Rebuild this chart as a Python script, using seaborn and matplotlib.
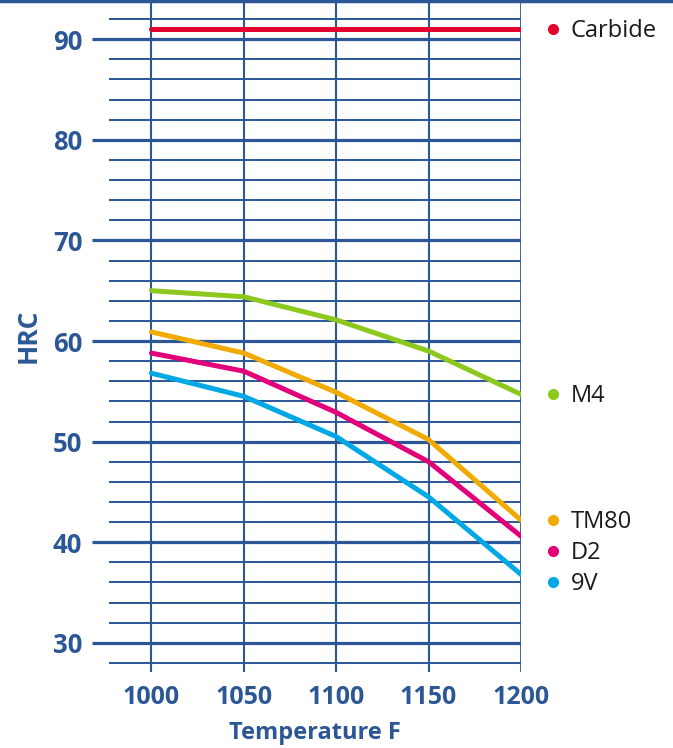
import numpy as np
import pandas as pd
import matplotlib
matplotlib.use("Agg")
import matplotlib.pyplot as plt
import seaborn as sns

# Temperatures (F) and hardness (HRC) per steel grade
temperature = [1000, 1050, 1100, 1150, 1200]
carbide = [91.0, 91.0, 91.0, 91.0, 91.0]
m4 = [65.0, 64.4, 62.1, 59.0, 54.7]
tm80 = [60.9, 58.8, 54.9, 50.2, 42.2]
d2 = [58.8, 57.0, 52.9, 48.0, 40.6]
v9 = [56.8, 54.5, 50.5, 44.5, 36.8]

grades = ["Carbide", "M4", "TM80", "D2", "9V"]
series = [carbide, m4, tm80, d2, v9]
colors = {"Carbide": "#e4032e", "M4": "#8dc81e", "TM80": "#f0aa00",
          "D2": "#e2007a", "9V": "#00a8e6"}

df = pd.DataFrame({
    "Temperature": temperature * len(grades),
    "HRC": [v for s in series for v in s],
    "Grade": [g for g in grades for _ in temperature],
})

sns.set_theme(style="white")
plt.rcParams["font.family"] = ["Open Sans", "DejaVu Sans"]

blue = "#2b5797"
fig = plt.figure(figsize=(6.73, 7.48), dpi=100)
ax = fig.add_axes([109 / 673, 1 - 672 / 748, (521 - 109) / 673, 672 / 748])

# grid: thin lines every 2 HRC, heavy ones every 10
for y in range(28, 95, 2):
    if y % 10:
        ax.axhline(y, color=blue, lw=1.4, zorder=1)
    else:
        ax.axhline(y, color=blue, lw=2.3, zorder=1)
for x in temperature:
    ax.axvline(x, color=blue, lw=1.5 if x < 1200 else 2.0, zorder=1)

sns.lineplot(data=df, x="Temperature", y="HRC", hue="Grade", palette=colors,
             lw=3.6, ax=ax, legend=False, zorder=3)

ax.set_xlim(977, 1200)
ax.set_ylim(27.1, 93.9)
for s in ax.spines.values():
    s.set_visible(False)

ax.set_xticks(temperature)
ax.set_yticks(range(30, 91, 10))
ax.tick_params(axis="x", bottom=False, length=0, pad=9, labelsize=18, labelcolor=blue)
ax.tick_params(axis="y", left=True, length=12.2, width=2.3, color=blue, pad=7,
               labelsize=18.5, labelcolor=blue)
for lab in ax.get_xticklabels() + ax.get_yticklabels():
    lab.set_fontweight("bold")

ax.set_xlabel("Temperature F", fontsize=17, fontweight="bold", color=blue, labelpad=8)
ax.set_ylabel("HRC", fontsize=19, fontweight="bold", color=blue, labelpad=8)

# labels next to line ends, spread apart so they do not collide
ends = sorted([(s[-1], g) for g, s in zip(grades, series)], reverse=True)
label_y = {}
prev = None
for val, g in ends:
    yv = val if prev is None else min(val, prev - 3.1)
    label_y[g] = yv
    prev = yv
for g in grades:
    ax.plot([1217.3], [label_y[g]], "o", color=colors[g], ms=7, clip_on=False)
    ax.text(1227, label_y[g] - 0.2, g, fontsize=17, color="#1a1a1a", va="center",
            clip_on=False)

fig.add_artist(plt.Line2D([0, 1], [0.998, 0.998], color=blue, lw=2.5,
                          transform=fig.transFigure))

fig.savefig("out.png", dpi=100)
